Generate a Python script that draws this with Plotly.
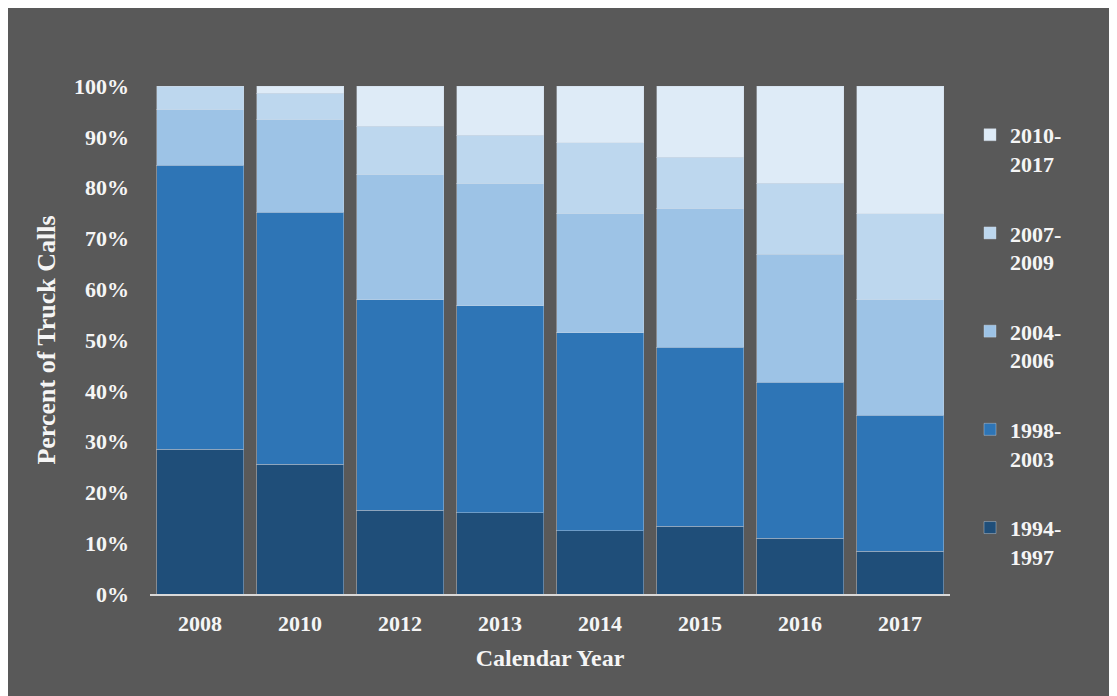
import plotly.graph_objects as go

years = ["2008", "2010", "2012", "2013", "2014", "2015", "2016", "2017"]

s_1994_1997 = [28.5, 25.5, 16.5, 16.0, 12.5, 13.3, 11.0, 8.4]
s_1998_2003 = [55.9, 49.6, 41.4, 40.7, 38.9, 35.3, 30.7, 26.8]
s_2004_2006 = [10.9, 18.3, 24.6, 24.1, 23.5, 27.2, 25.2, 22.7]
s_2007_2009 = [4.7, 5.2, 9.6, 9.5, 13.9, 10.2, 14.0, 17.0]
s_2010_2017 = [0.0, 1.4, 7.9, 9.7, 11.2, 14.0, 19.1, 25.1]

series = [
    ("1994-<br>1997", s_1994_1997, "#1F4E79"),
    ("1998-<br>2003", s_1998_2003, "#2E75B6"),
    ("2004-<br>2006", s_2004_2006, "#9DC3E6"),
    ("2007-<br>2009", s_2007_2009, "#BDD7EE"),
    ("2010-<br>2017", s_2010_2017, "#DEEBF7"),
]

FONT = "Liberation Serif"
TXT = "#F5F5F5"
BG = "#595959"

fig = go.Figure()
for i, (name, vals, col) in enumerate(series):
    fig.add_trace(go.Bar(
        x=years, y=[v / 100 for v in vals], name=name,
        legendgroup=f"g{i}", legendrank=100 - i,
        marker=dict(color=col, line=dict(color="rgba(205,215,228,0.4)", width=1)),
    ))

fig.update_layout(
    barmode="stack",
    bargap=0.13,
    width=1117, height=696,
    margin=dict(l=142, r=175, t=78, b=110),
    paper_bgcolor=BG,
    plot_bgcolor=BG,
    font=dict(family=FONT, color=TXT, size=22, weight="bold"),
    showlegend=True,
    legend=dict(
        x=1.025, xanchor="left", y=0.945, yanchor="top",
        traceorder="grouped", tracegroupgap=38,
        valign="top", bgcolor="rgba(0,0,0,0)",
        font=dict(family=FONT, size=22, color=TXT, weight="bold"),
    ),
)

fig.update_yaxes(
    range=[0, 1], tickformat=".0%", dtick=0.1, showgrid=False, zeroline=False,
    ticklabelstandoff=20,
    tickfont=dict(family=FONT, size=22, color=TXT, weight="bold"),
    title=dict(text="Percent of Truck Calls", standoff=10,
               font=dict(family=FONT, size=26, color=TXT, weight="bold")),
)
fig.update_xaxes(
    showline=True, linecolor="#D9D9D9", linewidth=2, showgrid=False,
    ticklabelstandoff=9,
    tickfont=dict(family=FONT, size=22, color=TXT, weight="bold"),
    title=dict(text="Calendar Year", standoff=14,
               font=dict(family=FONT, size=24, color=TXT, weight="bold")),
)

fig.write_html("out.html")
